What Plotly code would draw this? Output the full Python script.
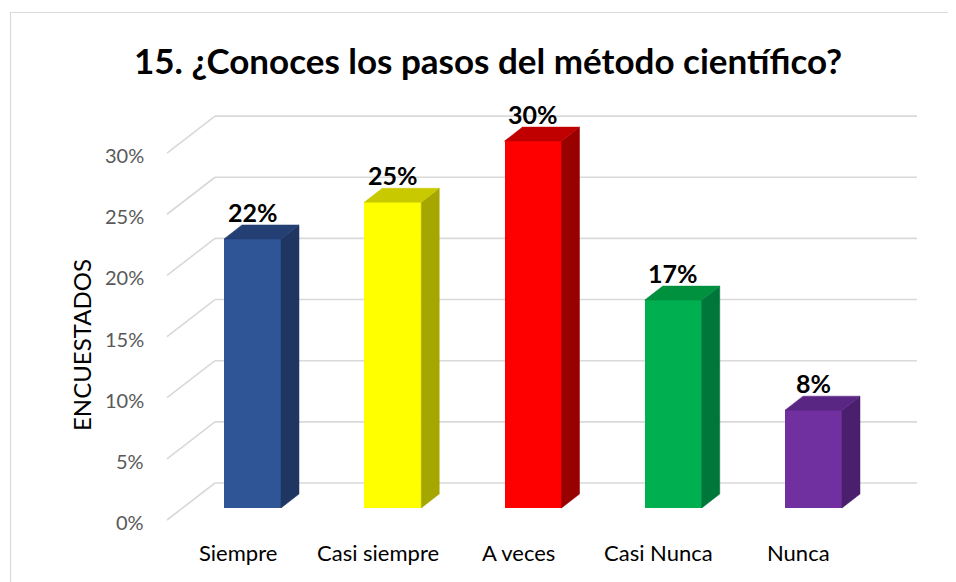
import plotly.graph_objects as go

# ---------------- data ----------------
categories = ["Siempre", "Casi siempre", "A veces", "Casi Nunca", "Nunca"]
values = [22, 25, 30, 17, 8]
tick_values = [0, 5, 10, 15, 20, 25, 30]
tick_labels = ["0%", "5%", "10%", "15%", "20%", "25%", "30%"]
title_text = "15. ¿Conoces los pasos del método científico?"
y_title = "ENCUESTADOS"

# ---------------- styles ----------------
front_colors = ["#2F5597", "#FFFF00", "#FF0000", "#00B050", "#7030A0"]
top_colors = ["#243F73", "#C9C900", "#C00000", "#00913F", "#5A2683"]
side_colors = ["#1F3662", "#A6A600", "#990000", "#00773A", "#4A1F6E"]
FONT = "Lato, 'Open Sans', sans-serif"

OFF = 8                      # page body margin in the browser
W, H = 956 - OFF, 582 - OFF  # figure size
# pixel geometry (reference-image pixels) -> data geometry
PX_X = 140.25          # pixels per category step
PX_Y = 12.23           # pixels per 1 %
X0_PX = 252.5          # pixel of category 0 centre
Y0_PX = 508            # pixel of value 0 (bar fronts)
BAR_W = 57 / PX_X
DX = 18 / PX_X          # 3D depth (x)
DY = 14 / PX_Y          # 3D depth (y)

def px_to_x(p):
    return (p - X0_PX) / PX_X

def py_to_y(p):
    return (Y0_PX - p) / PX_Y

def paper_x(p):
    return (p - OFF) / W

def paper_y(p):
    return 1 - (p - OFF) / H

x_idx = list(range(len(categories)))

fig = go.Figure()

# front faces
fig.add_trace(go.Bar(
    x=x_idx, y=values, width=BAR_W,
    marker=dict(color=front_colors, line=dict(width=0)),
    hoverinfo="skip", showlegend=False,
))

# side and top faces
for i, v in enumerate(values):
    xl = i - BAR_W / 2
    xr = i + BAR_W / 2
    fig.add_trace(go.Scatter(
        x=[xr, xr + DX, xr + DX, xr, xr],
        y=[0, DY, v + DY, v, 0],
        fill="toself", fillcolor=side_colors[i], mode="lines",
        line=dict(width=0.5, color=side_colors[i]),
        hoverinfo="skip", showlegend=False,
    ))
    fig.add_trace(go.Scatter(
        x=[xl, xr, xr + DX, xl + DX, xl],
        y=[v, v, v + DY, v + DY, v],
        fill="toself", fillcolor=top_colors[i], mode="lines",
        line=dict(width=0.5, color=top_colors[i]),
        hoverinfo="skip", showlegend=False,
    ))

shapes = []
# 3D gridlines: diagonal side wall + back wall
wall_dy = 25 / PX_Y
front_dy = -12 / PX_Y
for t in tick_values:
    shapes.append(dict(type="line", xref="x", yref="y", layer="below",
                       x0=px_to_x(167), y0=t + front_dy,
                       x1=px_to_x(215), y1=t + wall_dy,
                       line=dict(color="#D9D9D9", width=1.6)))
    shapes.append(dict(type="line", xref="x", yref="y", layer="below",
                       x0=px_to_x(215), y0=t + wall_dy,
                       x1=px_to_x(917), y1=t + wall_dy,
                       line=dict(color="#D9D9D9", width=1.6)))
# chart border
shapes.append(dict(type="rect", xref="paper", yref="paper", layer="below",
                   x0=paper_x(10.5), y0=-0.05, x1=1.05, y1=paper_y(12.5),
                   line=dict(color="#D9D9D9", width=1.2)))

annotations = []
for i, v in enumerate(values):
    annotations.append(dict(x=i, y=v, xref="x", yref="y", text=f"<b>{v}%</b>",
                            showarrow=False, yshift=27,
                            xanchor="center", yanchor="middle",
                            font=dict(family=FONT, size=25, color="#000000")))
    annotations.append(dict(x=i, y=0, xref="x", yref="y", text=categories[i],
                            showarrow=False, xshift=-15, yshift=-44,
                            xanchor="center", yanchor="middle",
                            font=dict(family=FONT, size=22, color="#000000")))
for t, lab in zip(tick_values, tick_labels):
    annotations.append(dict(x=px_to_x(146), y=t, xref="x", yref="y", text=lab,
                            showarrow=False, xanchor="right", yanchor="middle",
                            yshift=-14,
                            font=dict(family=FONT, size=20, color="#595959")))
annotations.append(dict(x=paper_x(81), y=paper_y(345), xref="paper", yref="paper",
                        text=y_title, textangle=-90, showarrow=False,
                        xanchor="center", yanchor="middle",
                        font=dict(family=FONT, size=24, color="#000000")))
annotations.append(dict(x=paper_x(488), y=paper_y(60), xref="paper", yref="paper",
                        text=f"<b>{title_text}</b>", showarrow=False,
                        xanchor="center", yanchor="middle",
                        font=dict(family=FONT, size=35, color="#000000")))

fig.update_layout(
    width=W, height=H,
    margin=dict(l=0, r=0, t=0, b=0),
    paper_bgcolor="white", plot_bgcolor="white",
    xaxis=dict(range=[px_to_x(OFF), px_to_x(OFF + W)], visible=False, fixedrange=True),
    yaxis=dict(range=[py_to_y(OFF + H), py_to_y(OFF)], visible=False, fixedrange=True),
    shapes=shapes, annotations=annotations,
    showlegend=False, bargap=0,
)

fig.write_html("out.html", config={"displayModeBar": False})
